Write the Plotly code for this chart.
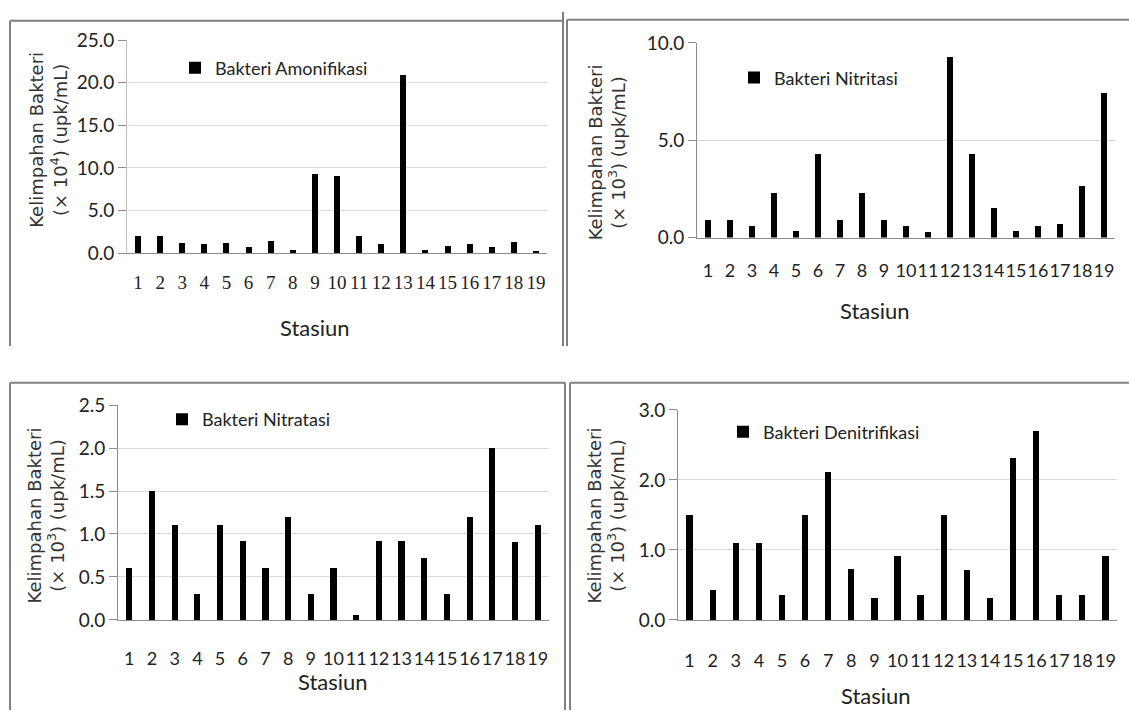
import plotly.graph_objects as go

# ---------------- data ----------------
stations = list(range(1, 20))
station_labels = [str(s) for s in stations]

amonifikasi = [2.0, 2.0, 1.2, 1.0, 1.2, 0.7, 1.4, 0.3, 9.3, 9.0,
               2.0, 1.0, 20.9, 0.3, 0.8, 1.0, 0.7, 1.3, 0.2]
nitritasi = [0.9, 0.9, 0.6, 2.3, 0.35, 4.3, 0.9, 2.3, 0.9, 0.6,
             0.3, 9.3, 4.3, 1.5, 0.35, 0.6, 0.7, 2.65, 7.45]
nitratasi = [0.6, 1.5, 1.1, 0.3, 1.1, 0.92, 0.6, 1.2, 0.3, 0.6,
             0.06, 0.92, 0.92, 0.72, 0.3, 1.2, 2.0, 0.91, 1.1]
denitrifikasi = [1.5, 0.43, 1.1, 1.1, 0.36, 1.5, 2.11, 0.73, 0.31, 0.92,
                 0.36, 1.5, 0.72, 0.31, 2.31, 2.7, 0.36, 0.36, 0.92]

series_names = ["Bakteri Amonifikasi", "Bakteri Nitritasi",
                "Bakteri Nitratasi", "Bakteri Denitrifikasi"]
series_values = [amonifikasi, nitritasi, nitratasi, denitrifikasi]
y_max = [25.0, 10.0, 2.5, 3.0]
y_dtick = [5.0, 5.0, 0.5, 1.0]
exponents = ["4", "3", "3", "3"]

# ---------------- layout (pixels) ----------------
W, H = 1129, 721
fx = lambda px: px / W
fy = lambda py: 1 - py / H

# plot boxes: x0, x1, y_top, y_bottom
boxes = [(127, 547, 29, 249), (697, 1115, 32, 233),
         (118, 549, 406, 628), (678, 1117, 411, 628)]
legend_pos = [(175, 58), (734, 68), (162, 421), (723, 434)]
ytitle_pos = [(48, 132), (607, 145), (46, 520), (606, 520)]
xtitle_pos = [(315, 326), (875, 308), (333, 692), (876, 706)]
xlabel_standoff = [12, 17, 22, 24]

FONT = "Lato"
GRID = "#d9d9d9"
AXIS = "#8c8c8c"

fig = go.Figure()
annotations = []
layout_extra = {}

for i in range(4):
    n = "" if i == 0 else str(i + 1)
    leg = "legend" if i == 0 else f"legend{i + 1}"
    fig.add_trace(go.Bar(
        x=stations, y=series_values[i], name=series_names[i],
        marker=dict(color="black", line=dict(width=0)),
        width=0.27, xaxis="x" + n, yaxis="y" + n,
        legend=leg, showlegend=True,
    ))
    x0, x1, yt, yb = boxes[i]
    layout_extra["xaxis" + n] = dict(
        domain=[fx(x0), fx(x1)], anchor="y" + n,
        range=[0.5, 19.5], tickmode="array", tickvals=stations,
        ticktext=station_labels, tickangle=0, ticks="",
        showgrid=False, showline=True, linecolor=AXIS, linewidth=1,
        zeroline=False, ticklabelstandoff=xlabel_standoff[i],
        tickfont=dict(family="Liberation Serif" if i == 0 else FONT,
                      size=19 if i == 0 else 18, color="#222"),
        fixedrange=True,
    )
    layout_extra["yaxis" + n] = dict(
        domain=[fy(yb), fy(yt)], anchor="x" + n,
        range=[0, y_max[i]], dtick=y_dtick[i], tick0=0,
        tickformat=".1f", ticks="outside", ticklen=8, tickcolor=AXIS,
        showgrid=True, gridcolor=GRID, gridwidth=1,
        showline=True, linecolor="#c0c0c0" if i == 0 else AXIS, linewidth=1,
        zeroline=False,
        tickfont=dict(family=FONT, size=19, color="#222"),
        fixedrange=True,
    )
    lx, ly = legend_pos[i]
    layout_extra[leg] = dict(
        x=fx(lx), y=fy(ly), xanchor="left", yanchor="middle",
        bgcolor="rgba(0,0,0,0)", borderwidth=0,
        font=dict(family=FONT, size=18, color="#222"),
        itemclick=False, itemdoubleclick=False,
    )
    tx, ty = ytitle_pos[i]
    annotations.append(dict(
        x=fx(tx), y=fy(ty), xref="paper", yref="paper",
        text=f"Kelimpahan Bakteri<br>(× 10<sup>{exponents[i]}</sup>) (upk/mL)",
        textangle=-90, showarrow=False, xanchor="center", yanchor="middle",
        font=dict(family="DejaVu Sans", size=18, color="#333"),
    ))
    sx, sy = xtitle_pos[i]
    annotations.append(dict(
        x=fx(sx), y=fy(sy), xref="paper", yref="paper", text="Stasiun",
        showarrow=False, xanchor="center", yanchor="middle",
        font=dict(family=FONT, size=22, color="#222"),
    ))

# panel frames
BORDER = dict(color="#808080", width=2)
frame_lines = [
    (10, 9, 563, 9), (10, 9, 10, 345), (563, 0, 563, 345),
    (567, 8, 1129, 8), (567, 8, 567, 345),
    (10, 383, 565, 383), (10, 383, 10, 721), (565, 383, 565, 721),
    (570, 383, 1129, 383), (570, 383, 570, 721),
]
shapes = [dict(type="line", xref="paper", yref="paper",
               x0=fx(a), y0=fy(b), x1=fx(c), y1=fy(d), line=BORDER)
          for a, b, c, d in frame_lines]

fig.update_layout(
    width=W, height=H, margin=dict(l=0, r=0, t=0, b=0),
    paper_bgcolor="white", plot_bgcolor="white",
    bargap=0, annotations=annotations, shapes=shapes,
    **layout_extra,
)

fig.write_html("out.html")
